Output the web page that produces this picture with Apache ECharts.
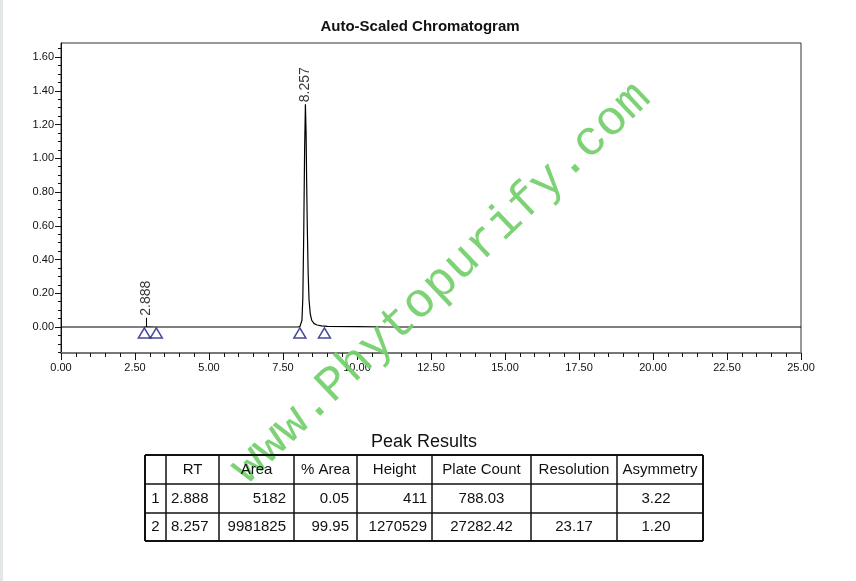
<!DOCTYPE html>
<html>
<head>
<meta charset="utf-8">
<script src="https://cdn.jsdelivr.net/npm/echarts@6/dist/echarts.min.js"></script>
<style>
html,body{margin:0;padding:0;background:#fff;}
#chart{width:856px;height:581px;}
</style>
</head>
<body>
<div id="chart"></div>
<script>
// ---- data ----
const times  = [0, 2.80, 2.888, 3.22, 8.00, 8.07, 8.11, 8.14, 8.17, 8.20, 8.23, 8.257, 8.28, 8.30, 8.32, 8.35, 8.38, 8.42, 8.47, 8.55, 8.65, 8.80, 9.00, 10.0, 11.0, 25.0];
const signal = [0, 0, 0.0004, 0, 0, 0.002, 0.01, 0.04, 0.17, 0.55, 1.05, 1.32, 1.15, 0.85, 0.60, 0.32, 0.16, 0.08, 0.04, 0.02, 0.012, 0.007, 0.004, 0.002, 0, 0];
const peakRT = [2.888, 8.257];
const peakLabelHeight = [0.055, 1.32];
const markerTimes = [2.815, 3.22, 8.07, 8.90];
const yLabelValues = [0, 0.2, 0.4, 0.6, 0.8, 1.0, 1.2, 1.4, 1.6];
const yMinorValues = [-0.15,-0.10,-0.05,0,0.05,0.10,0.15,0.20,0.25,0.30,0.35,0.40,0.45,0.50,0.55,0.60,0.65,0.70,0.75,0.80,0.85,0.90,0.95,1.00,1.05,1.10,1.15,1.20,1.25,1.30,1.35,1.40,1.45,1.50,1.55,1.60,1.65];
const tableHeaders = ['', 'RT', 'Area', '% Area', 'Height', 'Plate Count', 'Resolution', 'Asymmetry'];
const peakIndex   = ['1', '2'];
const rtCol       = ['2.888', '8.257'];
const areaCol     = ['5182', '9981825'];
const pctAreaCol  = ['0.05', '99.95'];
const heightCol   = ['411', '1270529'];
const plateCol    = ['788.03', '27282.42'];
const resolCol    = ['', '23.17'];
const asymCol     = ['3.22', '1.20'];

// ---- layout ----
const FONT = '"Liberation Sans", Arial, sans-serif';
const colX = [145, 166, 219, 294, 357, 432, 531, 617, 703];
const rowY = [455, 484, 513, 541];
const colAlign = ['center', 'left', 'right', 'right', 'right', 'center', 'center', 'center'];

const chart = echarts.init(document.getElementById('chart'));

const graphics = [];
graphics.push({type:'rect', shape:{x:0,y:0,width:3,height:581}, style:{fill:'#e4e8e4'}, silent:true});
// chart title
graphics.push({type:'text', z:60, style:{text:'Auto-Scaled Chromatogram', x:420, y:27, fill:'#111',
  font:'bold 15px ' + FONT, align:'center', verticalAlign:'middle', textAlign:'center', textVerticalAlign:'middle'}});
// table lines
const tw = 1.5;
for (let i = 0; i < colX.length; i++) {
  graphics.push({type:'line', z:50, shape:{x1:colX[i], y1:rowY[0], x2:colX[i], y2:rowY[rowY.length-1]},
    style:{stroke:'#111', lineWidth:(i===0||i===colX.length-1)?2:tw}});
}
for (let j = 0; j < rowY.length; j++) {
  graphics.push({type:'line', z:50, shape:{x1:colX[0], y1:rowY[j], x2:colX[colX.length-1], y2:rowY[j]},
    style:{stroke:'#111', lineWidth:(j===0||j===rowY.length-1)?2:tw}});
}
function cellText(text, col, row, align) {
  const x0 = colX[col], x1 = colX[col+1];
  let x, a = align;
  if (align === 'left') x = x0 + 5;
  else if (align === 'right') x = x1 - (col === 4 ? 5 : 8);
  else x = (x0 + x1) / 2;
  if (col === 7 && row > 0) x -= 4;
  const y = (rowY[row] + rowY[row+1]) / 2;
  graphics.push({type:'text', z:60, style:{text:text, x:x, y:y, fill:'#111', font:'15px ' + FONT,
    align:a, verticalAlign:'middle', textAlign:a, textVerticalAlign:'middle'}});
}
tableHeaders.forEach((h, c) => cellText(h, c, 0, 'center'));
const cols = [peakIndex, rtCol, areaCol, pctAreaCol, heightCol, plateCol, resolCol, asymCol];
for (let r = 0; r < 2; r++) {
  cols.forEach((col, c) => cellText(col[r], c, r + 1, colAlign[c]));
}
graphics.push({type:'text', z:60, style:{text:'Peak Results', x:424, y:442, fill:'#111', font:'18px ' + FONT,
  align:'center', verticalAlign:'middle', textAlign:'center', textVerticalAlign:'middle'}});
// watermark
graphics.push({type:'text', z:40, x:441, y:283, rotation:0.76, silent:true,
  style:{text:'www.Phytopurify.com', x:0, y:0, fill:'rgba(118,208,110,0.95)', font:'49px "Liberation Mono", "Courier New", monospace',
    align:'center', verticalAlign:'middle', textAlign:'center', textVerticalAlign:'middle'}});

const option = {
  backgroundColor: '#fff',
  animation: false,
  grid: {left: 61, right: 55, top: 43, bottom: 228, show: true, borderColor: '#333', borderWidth: 1},
  xAxis: [{
    type: 'value', min: 0, max: 25, interval: 2.5,
    axisLine: {show: true, onZero: false, lineStyle: {color: '#777', width: 2}},
    axisTick: {show: true, length: 7, lineStyle: {color: '#111'}},
    minorTick: {show: true, splitNumber: 5, length: 4, lineStyle: {color: '#111'}},
    splitLine: {show: false},
    axisLabel: {formatter: v => v.toFixed(2), fontSize: 11, color: '#111', fontFamily: FONT, margin: 9}
  }],
  yAxis: [{
    type: 'value', min: -0.154, max: 1.683,
    axisLine: {show: true, onZero: false, lineStyle: {color: '#111'}},
    axisTick: {show: true, length: 6, customValues: yLabelValues, lineStyle: {color: '#111'}},
    splitLine: {show: false},
    axisLabel: {customValues: yLabelValues, formatter: v => v.toFixed(2), fontSize: 11, color: '#111', fontFamily: FONT, margin: 7}
  }, {
    type: 'value', min: -0.154, max: 1.683, position: 'left',
    axisLine: {show: false},
    axisTick: {show: true, length: 3, customValues: yMinorValues, lineStyle: {color: '#111'}},
    splitLine: {show: false},
    axisLabel: {show: false}
  }],
  graphic: graphics,
  series: [{
    name: 'signal', type: 'line', data: times.map((t, i) => [t, signal[i]]),
    showSymbol: false, symbol: 'none', lineStyle: {color: '#000', width: 1.2}, z: 5
  }, {
    name: 'drop', type: 'line', data: [[peakRT[0], 0], [peakRT[0], peakLabelHeight[0]]],
    showSymbol: false, symbol: 'none', lineStyle: {color: '#000', width: 1}, z: 5
  }, {
    name: 'peakLabels', type: 'scatter', symbolSize: 0,
    data: peakRT.map((t, i) => [t, peakLabelHeight[i]]),
    label: {show: true, position: 'top', distance: 2, rotate: 90, align: 'left', verticalAlign: 'middle',
      formatter: p => p.value[0].toFixed(3), fontSize: 14, color: '#000', fontFamily: FONT}, z: 6
  }, {
    name: 'markers', type: 'scatter', symbol: 'triangle', symbolSize: [12, 10], symbolOffset: [0, 6],
    data: markerTimes.map(t => [t, 0]),
    itemStyle: {color: 'rgba(255,255,255,0)', borderColor: '#1a1a80', borderWidth: 1.5}, z: 7
  }]
};
chart.setOption(option);
</script>
</body>
</html>
